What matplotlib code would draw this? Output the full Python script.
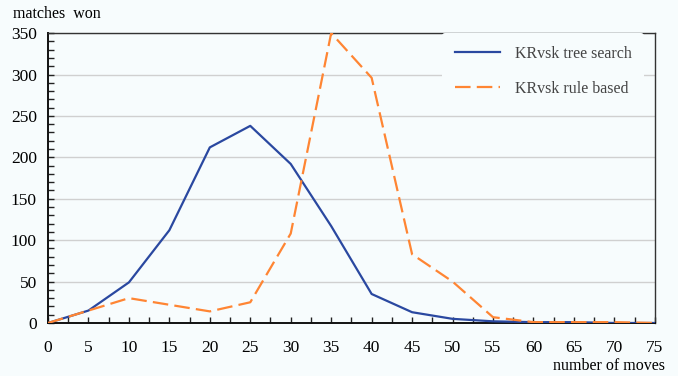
import matplotlib
matplotlib.use('agg')
import matplotlib.pyplot as plt
from matplotlib.ticker import MultipleLocator

moves = [0, 5, 10, 15, 20, 25, 30, 35, 40, 45, 50, 55, 60, 65, 70, 75]
tree_search = [0, 15, 49, 112, 212, 238, 192, 117, 35, 13, 5, 2, 1, 1, 0, 0]
rule_based = [0, 15, 30, 22, 14, 25, 108, 350, 296, 83, 50, 7, 1, 1, 1, 0]

bg = '#f7fcfd'
plt.rcParams['font.family'] = ['Liberation Serif', 'DejaVu Serif']

fig = plt.figure(figsize=(6.78, 3.76), dpi=100, facecolor=bg)
ax = fig.add_axes([0.0708, 0.141, 0.895, 0.771])
ax.set_facecolor(bg)

ax.plot(moves, tree_search, color='#2a48a0', lw=1.6, label='KRvsk tree search', zorder=3)
ax.plot(moves, rule_based, color='#ff8533', lw=1.6, dashes=(7, 2.8),
        label='KRvsk rule based', zorder=3)

ax.set_xlim(0, 75)
ax.set_ylim(0, 350)
ax.xaxis.set_major_locator(MultipleLocator(5))
ax.xaxis.set_minor_locator(MultipleLocator(2.5))
ax.yaxis.set_major_locator(MultipleLocator(50))
ax.yaxis.set_minor_locator(MultipleLocator(10))
ax.yaxis.grid(True, color='#d0d0d0', lw=1)
ax.set_axisbelow(True)

ax.tick_params(axis='both', which='both', direction='in', length=4, width=1,
               labelsize=12.5, color='#222222')
ax.tick_params(axis='x', which='both', pad=12, top=False)
ax.tick_params(axis='y', which='both', pad=8, right=False)

for side in ['left', 'bottom']:
    ax.spines[side].set_linewidth(1.4)
    ax.spines[side].set_color('#111111')
for side in ['top', 'right']:
    ax.spines[side].set_linewidth(1.0)
    ax.spines[side].set_color('#333333')

leg = ax.legend(loc='upper right', bbox_to_anchor=(0.983, 1.0), fontsize=11.5,
                frameon=True, facecolor=bg, edgecolor='none', framealpha=1,
                handlelength=2.85, handletextpad=0.9, labelspacing=1.2,
                borderpad=0.8, borderaxespad=0.0)
for t in leg.get_texts():
    t.set_color('#444444')

fig.text(13 / 678, 1 - 14 / 376, 'matches  won', fontsize=11.5, va='center', ha='left')
fig.text(665 / 678, 1 - 366 / 376, 'number of moves', fontsize=11.5, va='center', ha='right')

fig.savefig('out.png', dpi=100, facecolor=bg)
